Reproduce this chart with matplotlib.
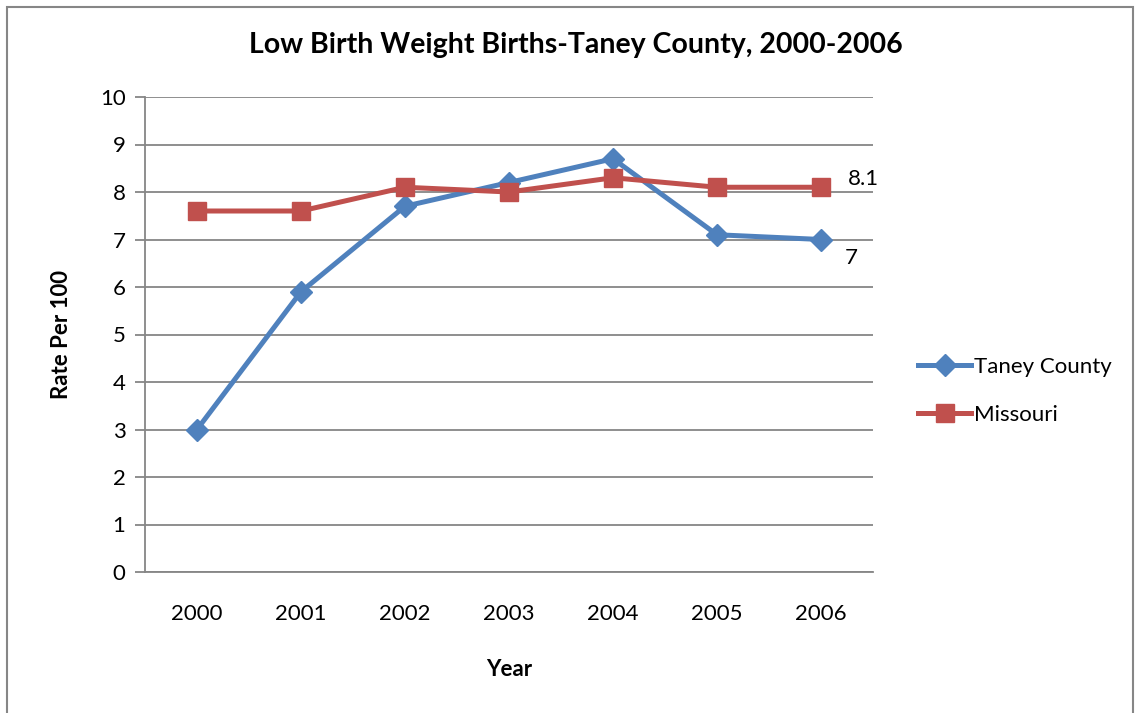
import matplotlib
matplotlib.use("Agg")
import matplotlib.pyplot as plt
from matplotlib.patches import Rectangle
import numpy as np

plt.rcParams['font.family'] = ['Lato', 'DejaVu Sans']

years = ['2000', '2001', '2002', '2003', '2004', '2005', '2006']
taney = [3.0, 5.9, 7.7, 8.2, 8.7, 7.1, 7.0]
missouri = [7.6, 7.6, 8.1, 8.0, 8.3, 8.1, 8.1]

blue = '#4F81BD'
red = '#C0504D'
grid_c = '#868686'

fig = plt.figure(figsize=(11.4, 7.13), dpi=100)
ax = fig.add_axes([145/1140, 1 - 572/713, 728/1140, 475/713])

x = np.arange(len(years))
ax.plot(x, taney, color=blue, lw=3.6, marker='D', ms=11, mec=blue, label='Taney County', zorder=3)
ax.plot(x, missouri, color=red, lw=3.6, marker='s', ms=13, mec=red, label='Missouri', zorder=4)

# labels on the last points
ax.annotate(f"{missouri[-1]:g}", (x[-1], missouri[-1]), xytext=(19, 6), textcoords='offset points',
            fontsize=16, va='center', ha='left')
ax.annotate(f"{taney[-1]:g}", (x[-1], taney[-1]), xytext=(17, -13), textcoords='offset points',
            fontsize=16, va='center', ha='left')

ax.set_xlim(-0.5, len(years) - 0.5)
ax.set_ylim(0, 10)
ax.set_yticks(range(0, 11))
ax.set_xticks(x)
ax.set_xticklabels(years)
ax.tick_params(axis='y', length=7, width=1.3, color=grid_c, labelsize=16, pad=7)
ax.tick_params(axis='x', length=0, labelsize=16, pad=23)
ax.grid(axis='y', color=grid_c, lw=1.3)
ax.set_axisbelow(True)
for s in ['top', 'right']:
    ax.spines[s].set_visible(False)
ax.spines['left'].set_color(grid_c)
ax.spines['left'].set_linewidth(1.3)
ax.spines['bottom'].set_color(grid_c)
ax.spines['bottom'].set_linewidth(1.3)

ax.set_xlabel('Year', fontsize=16, fontweight='bold', labelpad=25)
ax.set_ylabel('Rate Per 100', fontsize=16, fontweight='bold', labelpad=20)
fig.text(576/1140, 1 - 45/713, 'Low Birth Weight Births-Taney County, 2000-2006',
         fontsize=20.5, fontweight='bold', ha='center', va='center')

ax.legend(loc='center left', bbox_to_anchor=(898/1140, 1 - 391/713), bbox_transform=fig.transFigure,
          frameon=False, fontsize=16, handlelength=2.4, handletextpad=0.1, labelspacing=1.25)

# chart border
fig.patches.append(Rectangle((7/1140, -0.05), 1126/1140, 1.05 - 7/713, transform=fig.transFigure,
                             fill=False, edgecolor=grid_c, lw=1.5))

fig.savefig('out.png', dpi=100)
